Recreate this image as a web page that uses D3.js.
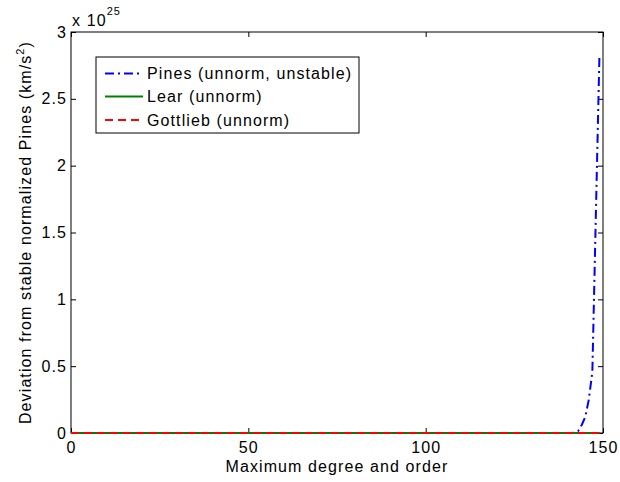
<!DOCTYPE html>
<html>
<head>
<meta charset="utf-8">
<script src="https://cdn.jsdelivr.net/npm/d3@7"></script>
<style>
  body { margin: 0; background: #fff; }
  text { font-family: "Liberation Sans", Arial, sans-serif; letter-spacing: 1.1px; }
</style>
</head>
<body>
<svg id="chart" width="620" height="482"></svg>
<script>
// data (deviation in km/s^2)
var pinesDegree = [0, 141, 142, 143, 144, 145, 146, 147, 148, 149];
var pinesDev = [0, 0, 0.003e25, 0.015e25, 0.06e25, 0.12e25, 0.25e25, 0.46e25, 1.65e25, 2.83e25];
var learDegree = [0, 149];
var learDev = [0, 0];
var gottliebDegree = [0, 149];
var gottliebDev = [0, 0];
var xTicks = [0, 50, 100, 150];
var yTicks = [0, 0.5e25, 1e25, 1.5e25, 2e25, 2.5e25, 3e25];
var seriesNames = ["Pines (unnorm, unstable)", "Lear (unnorm)", "Gottlieb (unnorm)"];

var plotLeft = 71, plotRight = 603, plotTop = 32, plotBottom = 433;
var svg = d3.select("#chart");
var fs = 16;

var x = d3.scaleLinear().domain([0, 150]).range([plotLeft, plotRight]);
var y = d3.scaleLinear().domain([0, 3e25]).range([plotBottom, plotTop]);

// box
svg.append("rect")
    .attr("x", plotLeft).attr("y", plotTop)
    .attr("width", plotRight - plotLeft).attr("height", plotBottom - plotTop)
    .attr("fill", "none").attr("stroke", "#000").attr("stroke-width", 1);

// axes, ticks inward like matlab
var xAxis = d3.axisBottom(x).tickValues(xTicks).tickSize(-5).tickPadding(9);
var gx = svg.append("g").attr("transform", "translate(0," + plotBottom + ")").call(xAxis);
var yAxis = d3.axisLeft(y).tickValues(yTicks).tickSize(-5).tickPadding(4)
    .tickFormat(function (d) { return d3.format("~g")(d / 1e25); });
var gy = svg.append("g").attr("transform", "translate(" + plotLeft + ",0)").call(yAxis);
// top and right ticks
svg.append("g").attr("transform", "translate(0," + plotTop + ")")
    .call(d3.axisTop(x).tickValues(xTicks).tickSize(-5).tickFormat(""));
svg.append("g").attr("transform", "translate(" + plotRight + ",0)")
    .call(d3.axisRight(y).tickValues(yTicks).tickSize(-5).tickFormat(""));

svg.selectAll(".domain").remove();
svg.selectAll(".tick line").attr("stroke", "#000");
svg.selectAll(".tick text")
    .attr("fill", "#000")
    .style("font-size", fs + "px");
gx.selectAll(".tick text").attr("dy", "0.71em");

// exponent
var ex = svg.append("text").attr("x", 72).attr("y", 26).style("font-size", fs + "px");
ex.append("tspan").text("x 10");
ex.append("tspan").attr("dy", -11).style("font-size", "11px").text("25");

// axis titles
svg.append("text")
    .attr("x", (plotLeft + plotRight) / 2).attr("y", 472)
    .attr("text-anchor", "middle")
    .style("font-size", fs + "px")
    .text("Maximum degree and order");

var yt = svg.append("text")
    .attr("transform", "translate(31," + ((plotTop + plotBottom) / 2) + ") rotate(-90)")
    .attr("text-anchor", "middle")
    .style("font-size", fs + "px");
yt.append("tspan").text("Deviation from stable normalized Pines (km/s");
yt.append("tspan").attr("dy", -7).style("font-size", "11px").text("2");
yt.append("tspan").attr("dy", 7).text(")");

// lines
var line = d3.line()
    .x(function (d) { return x(d[0]); })
    .y(function (d) { return y(d[1]); });

var series = [
    { name: seriesNames[0], deg: pinesDegree, val: pinesDev, color: "#0000ff", dash: "9,4,2,4" },
    { name: seriesNames[1], deg: learDegree, val: learDev, color: "#008000", dash: null },
    { name: seriesNames[2], deg: gottliebDegree, val: gottliebDev, color: "#ff0000", dash: "8,5" }
];

series.forEach(function (s) {
    var pts = s.deg.map(function (d, i) { return [d, s.val[i]]; });
    svg.append("path")
        .datum(pts)
        .attr("d", line)
        .attr("fill", "none")
        .attr("stroke", s.color)
        .attr("stroke-width", 2)
        .attr("stroke-dasharray", s.dash);
});

// legend
var lg = svg.append("g");
lg.append("rect")
    .attr("x", 96).attr("y", 57).attr("width", 263).attr("height", 76)
    .attr("fill", "#fff").attr("stroke", "#000").attr("stroke-width", 1);
var rowY = [73.5, 96.5, 120];
series.forEach(function (s, i) {
    lg.append("line")
        .attr("x1", 105).attr("x2", 143)
        .attr("y1", rowY[i]).attr("y2", rowY[i])
        .attr("stroke", s.color).attr("stroke-width", 2)
        .attr("stroke-dasharray", s.dash);
    lg.append("text")
        .attr("x", 147).attr("y", rowY[i])
        .attr("dy", "0.35em")
        .style("font-size", fs + "px")
        .text(s.name);
});
</script>
</body>
</html>
